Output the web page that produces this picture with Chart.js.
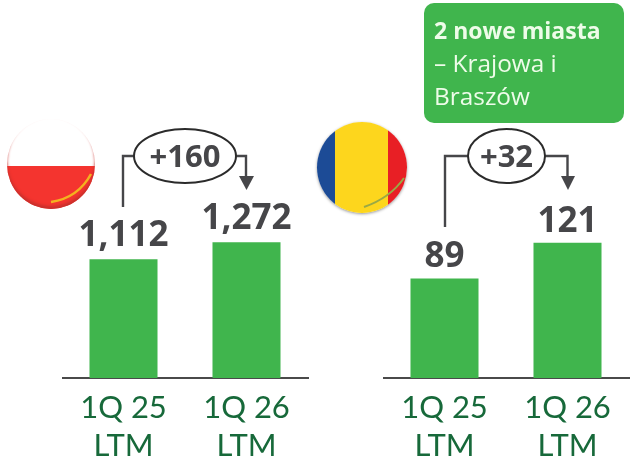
<!DOCTYPE html>
<html><head><meta charset="utf-8">
<script src="https://cdn.jsdelivr.net/npm/chart.js@4"></script>
<style>
html,body{margin:0;padding:0;background:#fff;width:634px;height:460px;overflow:hidden}
canvas.c{position:absolute}
#over{position:absolute;left:0;top:0}
.flag{position:absolute;border-radius:50%}
#pl{left:7px;top:119px;width:88px;height:90px;background:linear-gradient(#fff 0,#fff 52%,#f4342f 52%,#f4342f 100%);box-shadow:inset 0 -3px 3px #c9302c}
#ro{left:317px;top:122px;width:90px;height:91px;background:linear-gradient(90deg,#1c4b96 0,#1c4b96 20%,#fdd61d 20%,#fdd61d 79%,#e81f25 79%,#e81f25 100%);box-shadow:0 1px 3px #999}
#box{position:absolute;left:424px;top:3px;width:200px;height:120px;background:#40b54d;border-radius:10px;color:#eefce9;font:24.4px/33px "Open Sans",sans-serif}
#box div{position:absolute;left:10px;white-space:nowrap}
.oval{font:bold 31px "Open Sans",sans-serif;fill:#464649;text-anchor:middle}
</style></head><body>
<div class="flag" id="pl"></div><div class="flag" id="ro"></div>
<canvas class="c" id="left" width="258" height="476" style="left:62px;top:0"></canvas>
<canvas class="c" id="right" width="249" height="476" style="left:383px;top:0"></canvas>
<svg id="over" width="634" height="460">
<g fill="none" stroke="#464649" stroke-width="2.4">
<polyline points="123,207 123,156 134,156"/><polyline points="236,156 246,156 246,178"/>
<polyline points="445,227 445,156 468,156"/><polyline points="545,156 567.5,156 567.5,178"/>
</g>
<g fill="#464649"><polygon points="239,176 254,176 246.5,190"/><polygon points="561,176 575,176 568,190"/></g>
<g fill="#fff" stroke="#2b2b2b" stroke-width="2"><ellipse cx="185" cy="156" rx="51" ry="27"/><ellipse cx="506.5" cy="156" rx="38.5" ry="27"/></g>
<text class="oval" x="185" y="167">+160</text><text class="oval" x="506.5" y="167">+32</text>
<path d="M51 202 Q78 198 91 174" fill="none" stroke="#f3b21f" stroke-width="2.5"/>
<path d="M364 207 Q390 198 404 178" fill="none" stroke="#9aa945" stroke-width="2"/>
</svg>
<div id="box"><div style="top:11px;font-weight:bold;font-size:23px">2 nowe miasta</div><div style="top:43px">– Krajowa i</div><div style="top:76px">Braszów</div></div>
<script>
const categories=[["1Q 25","LTM"],["1Q 26","LTM"]];
const polandValues=[1112,1272];
const romaniaValues=[89,121];
const polandLabels=["1,112","1,272"];
const romaniaLabels=["89","121"];
const polandMax=3543, romaniaMax=338;

const valueLabels={id:"valueLabels",afterDatasetsDraw(chart,args,opts){
  const ctx=chart.ctx,meta=chart.getDatasetMeta(0);
  ctx.save();ctx.font='bold 35px "Open Sans",sans-serif';ctx.fillStyle="#464649";ctx.textAlign="center";ctx.textBaseline="alphabetic";
  meta.data.forEach((b,i)=>ctx.fillText(opts.texts[i],b.x,b.y-opts.gap));
  ctx.restore();
}};
function make(id,values,labels,max,gap){
  new Chart(document.getElementById(id),{type:"bar",plugins:[valueLabels],
    data:{labels:categories,datasets:[{data:values,backgroundColor:"#40b54d",borderWidth:0,categoryPercentage:1,barPercentage:0.553}]},
    options:{responsive:false,animation:false,events:[],
      layout:{padding:{left:0,right:id==="left"?12:3,top:0,bottom:0}},
      plugins:{legend:{display:false},tooltip:{enabled:false},valueLabels:{texts:labels,gap:gap}},
      scales:{
        x:{grid:{display:false,drawTicks:false},border:{display:true,color:"#4a4a4a",width:2},
           ticks:{color:"#17693a",font:{family:"Lato",size:31,lineHeight:1.226},padding:11,maxRotation:0,autoSkip:false}},
        y:{display:false,min:0,max:max}
      }}});
}
make("left",polandValues,polandLabels,polandMax,13);
make("right",romaniaValues,romaniaLabels,romaniaMax,11);
</script></body></html>
